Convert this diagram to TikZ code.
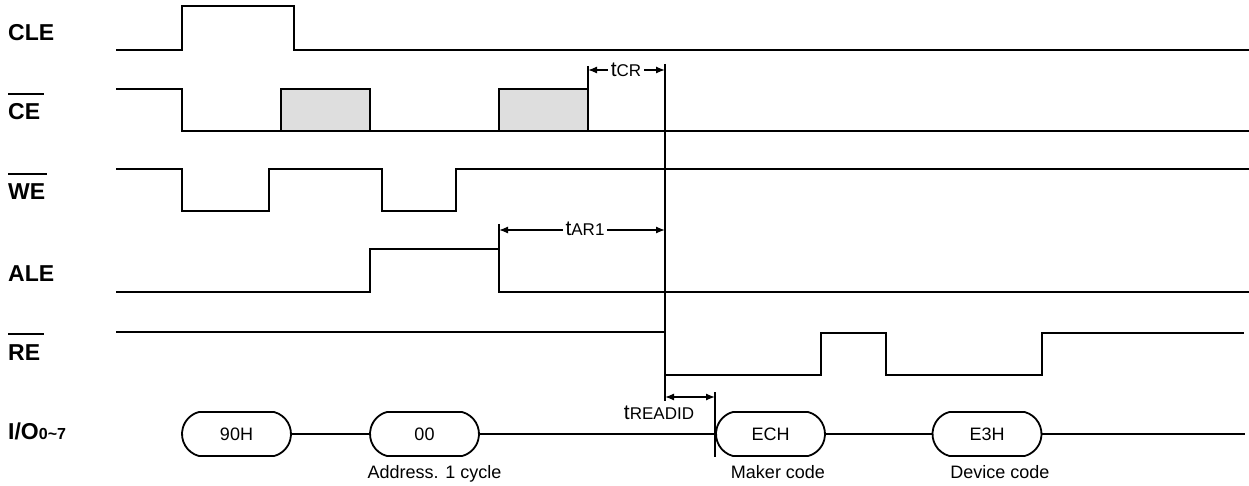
\documentclass[tikz,border=0pt]{standalone}
\usepackage{fontspec}
\setmainfont{Liberation Sans}
\usetikzlibrary{arrows.meta,shapes.misc,calc}
\newcommand{\tlab}[2]{{\fontsize{21}{24}\selectfont #1}{\fontsize{17}{20}\selectfont #2}}
\begin{document}
\begin{tikzpicture}[x=1pt,y=-1pt,
 sig/.style={line width=2.6pt, line join=miter},
 shade/.style={fill=black!13, draw=black, line width=2.6pt},
 dim/.style={line width=1.3pt},
 dimarr/.style={line width=1.3pt,{Latex[length=9pt,width=7pt]}-{Latex[length=9pt,width=7pt]}},
 lbl/.style={anchor=base west, inner sep=0pt, font=\fontsize{23}{26}\selectfont\bfseries},
 ovl/.style={line width=2.8pt},
 bus/.style={draw, line width=1.8pt, rounded rectangle, rounded rectangle arc length=150, minimum width=109pt, minimum height=44pt, inner sep=0pt, font=\fontsize{18}{20}\selectfont},
 busline/.style={line width=1.8pt},
 note/.style={anchor=base, inner sep=0pt, font=\fontsize{18}{20}\selectfont},
 tl/.style={anchor=base, inner xsep=3pt, inner ysep=0pt, fill=white}
]
\useasboundingbox (0,0) rectangle (1249,486);

% signal names
\node[lbl] (cle) at (8,41) {CLE};
\node[lbl] (ce) at (8,120) {CE};
\node[lbl] (we) at (8,200) {WE};
\node[lbl] (ale) at (8,281) {ALE};
\node[lbl] (re) at (8,360) {RE};
\node[lbl] (io) at (8,439) {I/O{\fontsize{16}{18}\selectfont 0\textasciitilde 7}};
\draw[ovl] ($(ce.base west)+(0,-26)$) -- ($(ce.base east)+(4,-26)$);
\draw[ovl] ($(we.base west)+(0,-26)$) -- ($(we.base east)+(2,-26)$);
\draw[ovl] ($(re.base west)+(0,-26)$) -- ($(re.base east)+(4,-26)$);

% CLE
\draw[sig] (116,50) -- (182,50) -- (182,6) -- (294,6) -- (294,50) -- (1249,50);
% CE
\filldraw[shade] (281,131) -- (281,89) -- (370,89) -- (370,131);
\filldraw[shade] (499,131) -- (499,89) -- (588,89) -- (588,131);
\draw[sig] (116,89) -- (182,89) -- (182,131) -- (1249,131);
% WE
\draw[sig] (116,169) -- (182,169) -- (182,211) -- (269,211) -- (269,169) -- (382,169) -- (382,211) -- (456,211) -- (456,169) -- (1249,169);
% ALE
\draw[sig] (116,292) -- (370,292) -- (370,249) -- (499,249) -- (499,292) -- (1249,292);
% RE
\draw[sig] (116,332) -- (665,332) -- (665,375) -- (821,375) -- (821,333) -- (886,333) -- (886,375) -- (1042,375) -- (1042,333) -- (1244,333);

% timing references
\coordinate (crA) at (588,70);
\coordinate (crB) at (665,70);
\coordinate (arA) at (499,230);
\coordinate (arB) at (665,230);
\coordinate (ridA) at (665,397);
\coordinate (ridB) at (715,397);
\draw[dim] (588,66) -- (588,89);
\draw[dim] (665,64) -- (665,401);
\draw[dim] (499,224) -- (499,249);
\draw[dim] (715,392) -- (715,457);
\draw[dimarr] (crA) -- (crB);
\draw[dimarr] (arA) -- (arB);
\draw[dimarr] (ridA) -- (ridB);
\node[tl] (tcr) at (626,77) {\tlab{t}{CR}};
\node[tl] (tar) at (585,236) {\tlab{t}{AR1}};
\node[anchor=base, inner sep=0pt] (trid) at (659,419) {\tlab{t}{READID}};

% I/O bus
\node[bus] (b90) at (236.5,434) {90H};
\node[bus] (b00) at (424.5,434) {00};
\node[bus] (bec) at (770.5,434) {ECH};
\node[bus] (be3) at (987,434) {E3H};
\coordinate (ioend) at (1245,434);
\draw[busline] (b90.east) -- (b00.west);
\draw[busline] (b00.east) -- (bec.west);
\draw[busline] (bec.east) -- (be3.west);
\draw[busline] (be3.east) -- (ioend);
\node[note] (n1) at (434.5,478) {Address. 1 cycle};
\node[note] (n2) at (778,478) {Maker code};
\node[note] (n3) at (1000,478) {Device code};
\end{tikzpicture}
\end{document}
